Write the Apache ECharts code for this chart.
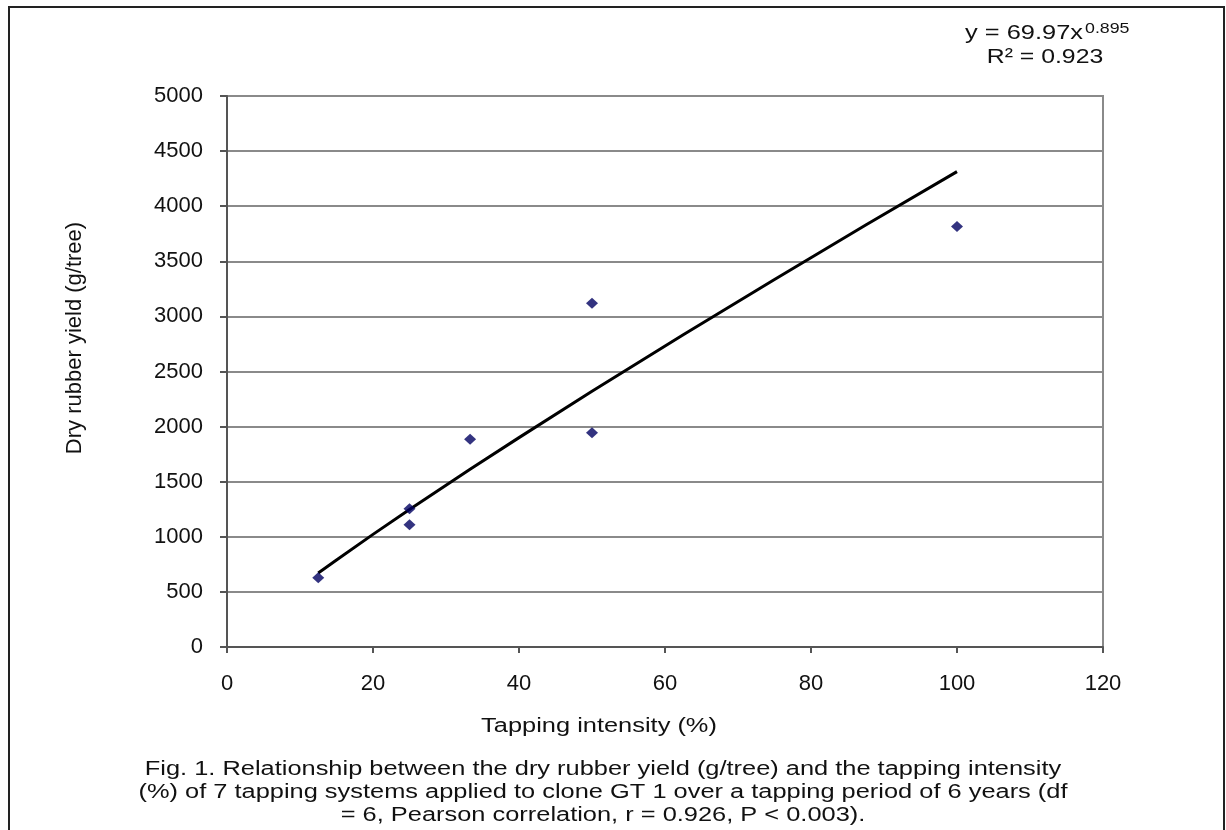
<!DOCTYPE html>
<html>
<head>
<meta charset="utf-8">
<script src="https://cdn.jsdelivr.net/npm/echarts@6/dist/echarts.min.js"></script>
<style>
  html, body { margin: 0; padding: 0; background: #fff; }
  #chart { width: 1226px; height: 830px; }
</style>
</head>
<body>
<div id="chart"></div>
<script>
// observed points: tapping intensity (%) and dry rubber yield (g/tree)
var intensity = [12.5, 25, 25, 33.3, 50, 50, 100];
var rubberYield = [628, 1255, 1110, 1885, 3120, 1945, 3815];

// power trend line y = 69.97x^0.895
var trendX = [12.5, 15, 20, 25, 33.3, 40, 50, 62.5, 75, 87.5, 100];
var trendY = [671, 790, 1022, 1248, 1614, 1900, 2320, 2833, 3335, 3829, 4314];

var xTicks = [0, 20, 40, 60, 80, 100, 120];
var yTicks = [0, 500, 1000, 1500, 2000, 2500, 3000, 3500, 4000, 4500, 5000];

var captionLines = [
    'Fig. 1. Relationship between the dry rubber yield (g/tree) and the tapping intensity',
    '(%) of 7 tapping systems applied to clone GT 1 over a tapping period of 6 years (df',
    '= 6, Pearson correlation, r = 0.926, P < 0.003).'
];

function pairs(xs, ys) {
    return xs.map(function (x, i) { return [x, ys[i]]; });
}

var el = document.getElementById('chart');
var myChart = echarts.init(el);
var option;
var font = '"Liberation Sans", Arial, sans-serif';

// the figure text is a little wide, so it is stretched sideways
function label(text, x, y, size, align, sx) {
    return {
        type: 'text',
        x: x, y: y,
        scaleX: sx,
        style: { text: text, x: 0, y: 0, textAlign: align, textVerticalAlign: 'middle', font: size + 'px ' + font, fill: '#111' }
    };
}

var graphics = [
    {
        type: 'rect',
        shape: { x: 9, y: 7, width: 1215, height: 840 },
        style: { fill: 'none', stroke: '#222', lineWidth: 2 },
        silent: true
    },
    label('Tapping intensity (%)', 599, 726, 20, 'center', 1.27),
    {
        type: 'text',
        rotation: Math.PI / 2,
        x: 75, y: 338,
        style: { text: 'Dry rubber yield (g/tree)', x: 0, y: 0, textAlign: 'center', textVerticalAlign: 'middle', font: '22px ' + font, fill: '#111' }
    },
    label('y = 69.97x', 1083, 33, 20, 'right', 1.27),
    label('0.895', 1085, 29, 14, 'left', 1.27),
    label('R² = 0.923', 1045, 57, 20, 'center', 1.24)
];

captionLines.forEach(function (line, i) {
    graphics.push(label(line, 603, 769 + i * 23, 20, 'center', 1.27));
});

option = {
    animation: false,
    backgroundColor: '#fff',
    grid: {
        left: 227,
        right: 123,
        top: 96,
        bottom: 183,
        show: true,
        borderColor: '#8a8a8a',
        borderWidth: 2,
        containLabel: false
    },
    xAxis: {
        type: 'value',
        min: 0,
        max: 120,
        interval: 20,
        axisLine: { show: true, onZero: false, lineStyle: { color: '#555', width: 2 } },
        axisTick: { show: true, length: 6, lineStyle: { color: '#555', width: 2 } },
        axisLabel: {
            margin: 26,
            color: '#111',
            fontSize: 22,
            fontFamily: font,
            formatter: function (v) { return xTicks.indexOf(v) >= 0 ? String(v) : ''; }
        },
        splitLine: { show: false }
    },
    yAxis: {
        type: 'value',
        min: 0,
        max: 5000,
        interval: 500,
        axisLine: { show: true, onZero: false, lineStyle: { color: '#555', width: 2 } },
        axisTick: { show: true, length: 7, lineStyle: { color: '#555', width: 2 } },
        axisLabel: {
            margin: 24,
            color: '#111',
            fontSize: 22,
            fontFamily: font,
            formatter: function (v) { return yTicks.indexOf(v) >= 0 ? String(v) : ''; }
        },
        splitLine: { show: true, lineStyle: { color: '#8a8a8a', width: 2 } }
    },
    graphic: graphics,
    series: [
        {
            name: 'Trend',
            type: 'line',
            data: pairs(trendX, trendY),
            showSymbol: false,
            smooth: false,
            lineStyle: { color: '#000', width: 3 },
            z: 3
        },
        {
            name: 'Yield',
            type: 'scatter',
            data: pairs(intensity, rubberYield),
            symbol: 'diamond',
            symbolSize: [12, 11],
            itemStyle: { color: '#000060' },
            z: 4
        }
    ]
};

myChart.setOption(option);
</script>
</body>
</html>
